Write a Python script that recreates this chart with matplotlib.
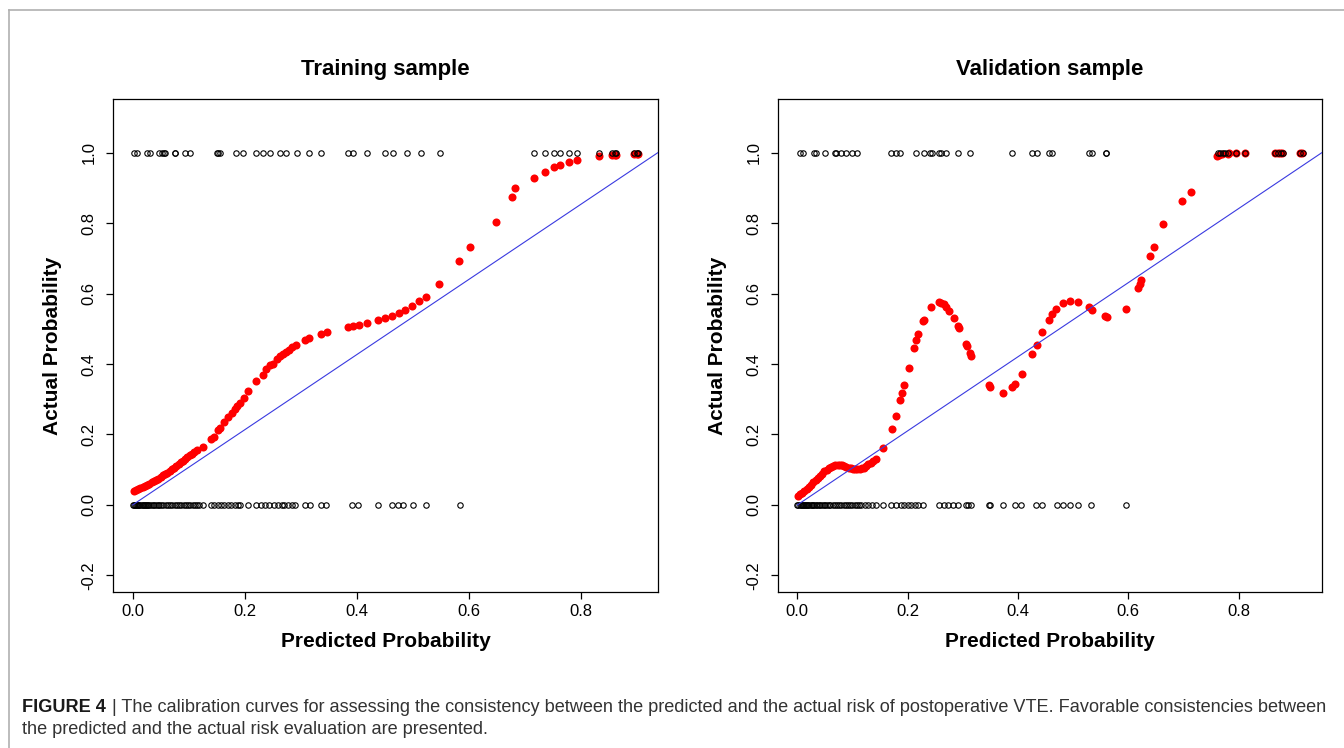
import matplotlib
matplotlib.use("Agg")
import matplotlib.pyplot as plt
from matplotlib import font_manager
from matplotlib.lines import Line2D

plt.rcParams['font.family'] = ['Liberation Sans', 'DejaVu Sans']

# ---------------- data ----------------
# Training sample: smoothed calibration curve (red dots)
train_curve_x = [0.002, 0.006, 0.010, 0.014, 0.018, 0.022, 0.026, 0.030, 0.034, 0.038,
                 0.042, 0.046, 0.050, 0.054, 0.058, 0.062, 0.066, 0.070, 0.074, 0.078,
                 0.082, 0.086, 0.090, 0.094, 0.098, 0.102, 0.106, 0.110, 0.115,
                 0.126, 0.140, 0.145, 0.153, 0.156, 0.164, 0.170, 0.177, 0.182, 0.187,
                 0.191, 0.198, 0.206, 0.221, 0.232, 0.239, 0.246, 0.250, 0.258, 0.264,
                 0.269, 0.274, 0.279, 0.285, 0.292, 0.307, 0.315, 0.336, 0.347, 0.384,
                 0.394, 0.404, 0.419, 0.438, 0.450, 0.463, 0.475, 0.487, 0.498, 0.512,
                 0.523, 0.547, 0.583, 0.602, 0.648, 0.678, 0.683, 0.717, 0.737, 0.752,
                 0.763, 0.779, 0.794, 0.833, 0.856, 0.861, 0.863, 0.896, 0.900, 0.903]
train_curve_y = [0.040, 0.042, 0.045, 0.048, 0.051, 0.054, 0.057, 0.060, 0.064, 0.068,
                 0.071, 0.075, 0.080, 0.084, 0.088, 0.092, 0.097, 0.102, 0.106, 0.111,
                 0.116, 0.121, 0.126, 0.131, 0.136, 0.141, 0.146, 0.151, 0.157,
                 0.164, 0.188, 0.194, 0.214, 0.219, 0.235, 0.250, 0.262, 0.273, 0.282,
                 0.290, 0.304, 0.322, 0.352, 0.369, 0.386, 0.396, 0.401, 0.415, 0.422,
                 0.429, 0.435, 0.441, 0.449, 0.454, 0.467, 0.473, 0.484, 0.490, 0.504,
                 0.509, 0.512, 0.517, 0.525, 0.530, 0.537, 0.545, 0.554, 0.564, 0.580,
                 0.591, 0.626, 0.691, 0.732, 0.803, 0.873, 0.900, 0.927, 0.946, 0.958,
                 0.964, 0.972, 0.979, 0.989, 0.992, 0.992, 0.992, 0.997, 0.997, 0.997]
# Training sample: observed outcomes (open circles)
train_event_x = [0.003, 0.008, 0.026, 0.031, 0.047, 0.052, 0.056, 0.058, 0.075, 0.076,
                 0.093, 0.103, 0.150, 0.153, 0.156, 0.184, 0.197, 0.221, 0.232, 0.246,
                 0.264, 0.274, 0.294, 0.315, 0.336, 0.384, 0.394, 0.419, 0.450, 0.464,
                 0.489, 0.514, 0.548, 0.717, 0.737, 0.752, 0.763, 0.779, 0.794, 0.833,
                 0.856, 0.861, 0.863, 0.896, 0.900, 0.903]
train_nonevent_x = [0.000, 0.002, 0.004, 0.006, 0.008, 0.010, 0.012, 0.014, 0.016, 0.018,
                    0.020, 0.022, 0.024, 0.026, 0.028, 0.030, 0.033, 0.036, 0.039, 0.042,
                    0.045, 0.048, 0.051, 0.055, 0.059, 0.063, 0.067, 0.071, 0.075, 0.079,
                    0.083, 0.087, 0.091, 0.095, 0.099, 0.103, 0.107, 0.111, 0.115, 0.118,
                    0.126, 0.140, 0.146, 0.152, 0.158, 0.164, 0.170, 0.176, 0.182, 0.188,
                    0.191, 0.206, 0.221, 0.229, 0.237, 0.244, 0.252, 0.260, 0.267, 0.271,
                    0.278, 0.285, 0.290, 0.307, 0.316, 0.336, 0.345, 0.392, 0.402, 0.438,
                    0.463, 0.473, 0.483, 0.500, 0.523, 0.584]

# Validation sample
valid_curve_x = [0.001, 0.005, 0.009, 0.013, 0.017, 0.021, 0.025, 0.029, 0.033, 0.037,
                 0.041, 0.045, 0.049, 0.053, 0.057, 0.061, 0.065, 0.069, 0.073, 0.077,
                 0.081, 0.085, 0.089, 0.093, 0.097, 0.101, 0.105, 0.109, 0.113, 0.117,
                 0.121, 0.125, 0.129, 0.133, 0.137, 0.142,
                 0.156, 0.171, 0.178, 0.186, 0.190, 0.193, 0.202, 0.211, 0.216, 0.219,
                 0.227, 0.229, 0.242, 0.256, 0.261, 0.265, 0.270, 0.275, 0.284, 0.291,
                 0.293, 0.305, 0.308, 0.313, 0.315, 0.347, 0.350, 0.372, 0.389, 0.394,
                 0.407, 0.425, 0.434, 0.444, 0.456, 0.462, 0.469, 0.482, 0.495, 0.508,
                 0.528, 0.535, 0.557, 0.561, 0.596, 0.618, 0.621, 0.623, 0.640, 0.646,
                 0.662, 0.698, 0.713, 0.761, 0.765, 0.770, 0.780, 0.783, 0.796, 0.812,
                 0.866, 0.871, 0.875, 0.878, 0.911, 0.915]
valid_curve_y = [0.026, 0.030, 0.035, 0.040, 0.046, 0.051, 0.058, 0.064, 0.070, 0.076,
                 0.083, 0.089, 0.095, 0.100, 0.105, 0.108, 0.111, 0.113, 0.114, 0.114,
                 0.113, 0.111, 0.109, 0.106, 0.104, 0.103, 0.102, 0.102, 0.103, 0.104,
                 0.106, 0.110, 0.115, 0.120, 0.126, 0.131,
                 0.162, 0.215, 0.253, 0.299, 0.317, 0.339, 0.389, 0.445, 0.469, 0.485,
                 0.522, 0.526, 0.562, 0.575, 0.573, 0.569, 0.562, 0.551, 0.530, 0.509,
                 0.501, 0.457, 0.450, 0.432, 0.424, 0.339, 0.335, 0.319, 0.335, 0.343,
                 0.371, 0.427, 0.455, 0.491, 0.526, 0.542, 0.555, 0.573, 0.580, 0.577,
                 0.563, 0.553, 0.535, 0.534, 0.555, 0.615, 0.627, 0.638, 0.706, 0.733,
                 0.796, 0.863, 0.889, 0.990, 0.994, 0.996, 0.997, 0.998, 0.999, 0.999,
                 1.000, 1.000, 1.000, 1.000, 1.000, 1.000]
valid_event_x = [0.005, 0.010, 0.030, 0.034, 0.051, 0.068, 0.071, 0.080, 0.089, 0.099,
                 0.109, 0.170, 0.178, 0.187, 0.216, 0.229, 0.241, 0.244, 0.256, 0.260,
                 0.270, 0.292, 0.313, 0.389, 0.425, 0.434, 0.456, 0.462, 0.528, 0.535,
                 0.559, 0.560, 0.762, 0.766, 0.771, 0.776, 0.781, 0.796, 0.811, 0.866,
                 0.872, 0.877, 0.880, 0.912, 0.916]
valid_nonevent_x = [0.000, 0.002, 0.004, 0.006, 0.008, 0.010, 0.012, 0.014, 0.016, 0.018,
                    0.020, 0.022, 0.024, 0.026, 0.028, 0.030, 0.033, 0.036, 0.039, 0.042,
                    0.045, 0.048, 0.051, 0.054, 0.057, 0.060, 0.064, 0.068, 0.072, 0.076,
                    0.080, 0.084, 0.088, 0.092, 0.096, 0.100, 0.104, 0.108, 0.112, 0.116,
                    0.122, 0.129, 0.135, 0.142, 0.156, 0.170, 0.178, 0.188, 0.194, 0.200,
                    0.206, 0.213, 0.219, 0.227, 0.256, 0.265, 0.274, 0.283, 0.292, 0.305,
                    0.310, 0.315, 0.348, 0.349, 0.372, 0.394, 0.406, 0.433, 0.443, 0.471,
                    0.482, 0.495, 0.508, 0.533, 0.595]

# reference line as it appears in the figure
train_ref_x = [0.0, 0.938]
train_ref_y = [0.0, 1.0]
valid_ref_x = [0.0, 0.951]
valid_ref_y = [0.0, 1.0]

titles = ["Training sample", "Validation sample"]
x_ticks = [0.0, 0.2, 0.4, 0.6, 0.8]
y_ticks = [-0.2, 0.0, 0.2, 0.4, 0.6, 0.8, 1.0]
caption_bold = "FIGURE 4"
caption_line1 = ("| The calibration curves for assessing the consistency between the predicted and the "
                 "actual risk of postoperative VTE. Favorable consistencies between")
caption_line2 = "the predicted and the actual risk evaluation are presented."

W, H = 1344, 748
fig = plt.figure(figsize=(W / 100, H / 100), dpi=100)

# thin grey frame around the figure image
fig.add_artist(Line2D([9 / W, 9 / W], [0, 1 - 10 / H], color='#b0b0b0', lw=1.2))
fig.add_artist(Line2D([9 / W, 1], [1 - 10 / H, 1 - 10 / H], color='#b0b0b0', lw=1.2))

panels = [
    (113, 658, 0.938, train_curve_x, train_curve_y, train_event_x, train_nonevent_x, train_ref_x, train_ref_y),
    (778, 1322, 0.951, valid_curve_x, valid_curve_y, valid_event_x, valid_nonevent_x, valid_ref_x, valid_ref_y),
]
top, bottom = 99, 592

for i, (x0, x1, xmax, cx, cy, ev, nev, rx, ry) in enumerate(panels):
    ax = fig.add_axes([x0 / W, 1 - bottom / H, (x1 - x0) / W, (bottom - top) / H])
    ax.plot(cx, cy, 'o', color='red', markersize=5.8, markeredgewidth=0, zorder=2)
    ax.plot(ev, [1.0] * len(ev), 'o', mfc='none', mec='black', markersize=3.9, mew=0.8, zorder=3)
    ax.plot(nev, [0.0] * len(nev), 'o', mfc='none', mec='black', markersize=3.9, mew=0.8, zorder=3)
    ax.plot(rx, ry, color='#3a3ae0', lw=0.8, zorder=4)
    ax.set_xlim(-0.035, xmax)
    ax.set_ylim(-0.247, 1.152)
    ax.set_xticks(x_ticks)
    ax.set_yticks(y_ticks)
    ax.set_xticklabels([f"{t:.1f}" for t in x_ticks])
    ax.set_yticklabels([f"{t:.1f}" for t in y_ticks], rotation=90, va='center')
    ax.tick_params(length=5, width=0.9, labelsize=12, colors='black')
    ax.tick_params(axis='x', pad=4)
    ax.tick_params(axis='y', pad=7)
    for s in ax.spines.values():
        s.set_linewidth(0.9)
    ax.set_title(titles[i], fontsize=16, fontweight='bold', pad=17)
    ax.set_xlabel("Predicted Probability", fontsize=15, fontweight='bold', labelpad=9)
    ax.set_ylabel("Actual Probability", fontsize=15, fontweight='bold', labelpad=14)

# caption in a narrow face when available, stretched to the reference line width
installed = {f.name for f in font_manager.fontManager.ttflist}
cap_font = 'Liberation Sans Narrow' if 'Liberation Sans Narrow' in installed else 'Liberation Sans'

fig.canvas.draw()
renderer = fig.canvas.get_renderer()
t1 = fig.text(22 / W, 1 - 707 / H, caption_bold, fontsize=12, fontweight='bold', family=cap_font,
              color='#1a1a1a', va='center', ha='left')
t2 = fig.text(0, 1 - 707 / H, caption_line1, fontsize=12, family=cap_font,
              color='#333333', va='center', ha='left')
w_bold = t1.get_window_extent(renderer).width
w_text = t2.get_window_extent(renderer).width
size = 12 * (1330 - 22 - 6) / (w_bold + w_text)
t1.set_fontsize(size)
t2.set_fontsize(size)
bb = t1.get_window_extent(renderer)
t2.set_x((bb.x1 + 6) / W)
fig.text(22 / W, 1 - 730 / H, caption_line2, fontsize=size, family=cap_font,
         color='#333333', va='center', ha='left')

fig.savefig("out.png", dpi=100)
